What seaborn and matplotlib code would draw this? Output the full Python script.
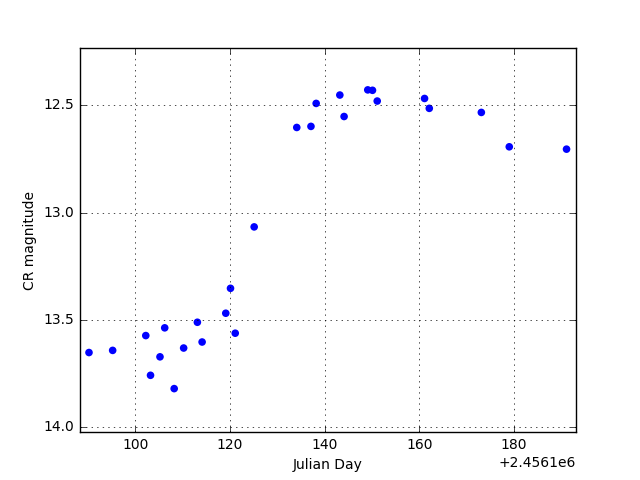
import matplotlib
matplotlib.use("Agg")
import matplotlib.pyplot as plt
import seaborn as sns
import pandas as pd

julian_day = [2456190.2, 2456195.2, 2456202.2, 2456203.2, 2456205.2, 2456206.2,
              2456208.2, 2456210.2, 2456213.1, 2456214.1, 2456219.1, 2456220.1,
              2456221.1, 2456225.1, 2456234.1, 2456237.1, 2456238.2, 2456243.2,
              2456244.1, 2456249.1, 2456250.1, 2456251.1, 2456261.1, 2456262.1,
              2456273.1, 2456279.0, 2456291.1]
cr_mag = [13.652, 13.642, 13.573, 13.758, 13.672, 13.537, 13.820, 13.631,
          13.511, 13.603, 13.469, 13.353, 13.562, 13.067, 12.604, 12.599,
          12.492, 12.453, 12.553, 12.429, 12.431, 12.481, 12.469, 12.515,
          12.534, 12.694, 12.705]

df = pd.DataFrame({"jd": julian_day, "mag": cr_mag})

plt.style.use("classic")
plt.rcParams["font.size"] = 10
plt.rcParams["xtick.labelsize"] = 10
plt.rcParams["ytick.labelsize"] = 10
plt.rcParams["axes.labelsize"] = 10
fig = plt.figure(figsize=(6.4, 4.8), dpi=100, facecolor="white")
ax = fig.add_axes([0.125, 0.1, 0.775, 0.8])
sns.scatterplot(data=df, x="jd", y="mag", ax=ax, color="blue", s=30,
                linewidth=0, edgecolor="none")
ax.set_xlim(2456188.3, 2456293.1)
ax.set_ylim(14.022, 12.234)
ax.set_yticks([12.5, 13.0, 13.5, 14.0])
ax.xaxis.get_major_formatter().set_useOffset(2456100)
ax.grid(True, linestyle=":", color="black")
ax.set_xlabel("Julian Day")
ax.set_ylabel("CR magnitude")
fig.savefig("out.png", dpi=100, facecolor="white")
